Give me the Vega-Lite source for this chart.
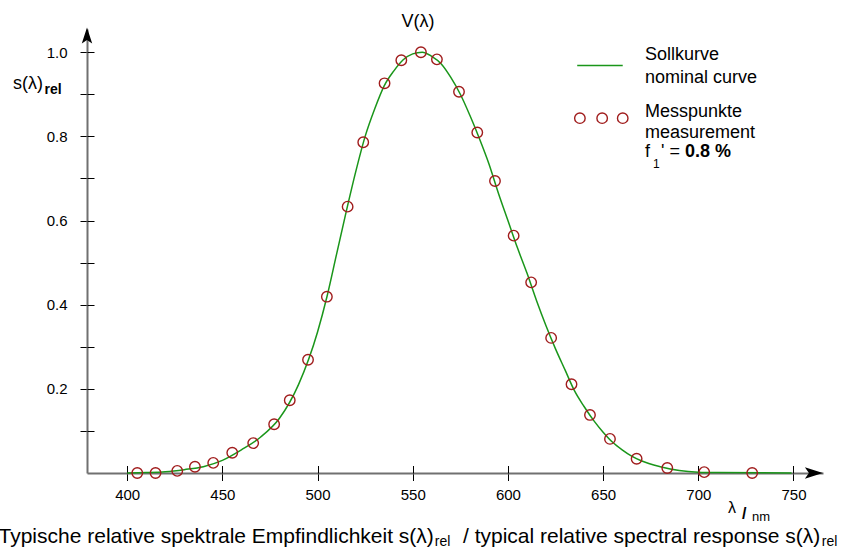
{
  "$schema": "https://vega.github.io/schema/vega-lite/v6.json",
  "width": 736,
  "height": 444,
  "autosize": {"type": "none"},
  "padding": {"left": 87, "top": 29, "right": 27, "bottom": 78},
  "background": "white",
  "config": {"view": {"stroke": null}, "font": "Liberation Sans"},
  "data": {"values": [{}]},
  "datasets": {
    "curve": [
      {"wl": 400, "s": 0.0}, {"wl": 410, "s": 0.001}, {"wl": 420, "s": 0.003}, {"wl": 430, "s": 0.008},
      {"wl": 440, "s": 0.015}, {"wl": 450, "s": 0.03}, {"wl": 460, "s": 0.055}, {"wl": 470, "s": 0.085},
      {"wl": 480, "s": 0.13}, {"wl": 490, "s": 0.21}, {"wl": 500, "s": 0.335}, {"wl": 505, "s": 0.42},
      {"wl": 510, "s": 0.52}, {"wl": 515, "s": 0.62}, {"wl": 520, "s": 0.715}, {"wl": 525, "s": 0.8},
      {"wl": 530, "s": 0.865}, {"wl": 535, "s": 0.92}, {"wl": 540, "s": 0.955}, {"wl": 545, "s": 0.982},
      {"wl": 550, "s": 0.996}, {"wl": 555, "s": 1.0}, {"wl": 560, "s": 0.99}, {"wl": 565, "s": 0.972},
      {"wl": 570, "s": 0.94}, {"wl": 575, "s": 0.9}, {"wl": 580, "s": 0.85}, {"wl": 585, "s": 0.795},
      {"wl": 590, "s": 0.735}, {"wl": 595, "s": 0.665}, {"wl": 600, "s": 0.6}, {"wl": 605, "s": 0.535},
      {"wl": 610, "s": 0.475}, {"wl": 615, "s": 0.41}, {"wl": 620, "s": 0.35}, {"wl": 625, "s": 0.295},
      {"wl": 630, "s": 0.245}, {"wl": 635, "s": 0.195}, {"wl": 640, "s": 0.158}, {"wl": 645, "s": 0.125},
      {"wl": 650, "s": 0.097}, {"wl": 655, "s": 0.073}, {"wl": 660, "s": 0.055}, {"wl": 665, "s": 0.04},
      {"wl": 670, "s": 0.029}, {"wl": 680, "s": 0.015}, {"wl": 690, "s": 0.006}, {"wl": 700, "s": 0.002},
      {"wl": 710, "s": 0.001}, {"wl": 749, "s": 0.0}
    ],
    "meas": [
      {"wl": 405.3, "s": 0.0}, {"wl": 414.9, "s": 0.0}, {"wl": 426.3, "s": 0.005}, {"wl": 435.6, "s": 0.015},
      {"wl": 445.2, "s": 0.024}, {"wl": 455.2, "s": 0.048}, {"wl": 466.2, "s": 0.071}, {"wl": 477.2, "s": 0.116},
      {"wl": 485.4, "s": 0.173}, {"wl": 495.0, "s": 0.269}, {"wl": 504.9, "s": 0.419}, {"wl": 515.8, "s": 0.633},
      {"wl": 524.0, "s": 0.786}, {"wl": 535.2, "s": 0.926}, {"wl": 544.0, "s": 0.981}, {"wl": 554.3, "s": 1.0},
      {"wl": 562.7, "s": 0.983}, {"wl": 574.3, "s": 0.906}, {"wl": 583.9, "s": 0.809}, {"wl": 593.2, "s": 0.694},
      {"wl": 603.0, "s": 0.564}, {"wl": 612.2, "s": 0.453}, {"wl": 622.7, "s": 0.321}, {"wl": 633.4, "s": 0.211},
      {"wl": 643.1, "s": 0.138}, {"wl": 653.6, "s": 0.081}, {"wl": 667.6, "s": 0.034}, {"wl": 683.7, "s": 0.012},
      {"wl": 703.1, "s": 0.002}, {"wl": 728.3, "s": 0.0}
    ]
  },
  "resolve": {"axis": {"x": "independent", "y": "independent"}},
  "layer": [
    {
      "data": {"name": "curve"},
      "mark": {"type": "line", "color": "#1a961a", "strokeWidth": 1.5, "interpolate": "monotone"},
      "encoding": {
        "x": {
          "field": "wl", "type": "quantitative",
          "scale": {"domain": [378.9, 765.5], "nice": false, "zero": false},
          "axis": {
            "orient": "bottom", "values": [400, 450, 500, 550, 600, 650, 700, 750], "format": "d",
            "domainColor": "#707070", "domainWidth": 2, "tickColor": "black", "tickWidth": 1, "tickSize": 7.5,
            "labelFontSize": 15, "labelColor": "black", "labelPadding": 7, "labelFont": "Liberation Sans",
            "title": null, "grid": false
          }
        },
        "y": {
          "field": "s", "type": "quantitative",
          "scale": {"domain": [0, 1.0551], "nice": false, "zero": false},
          "axis": {
            "orient": "left", "values": [0.1, 0.2, 0.3, 0.4, 0.5, 0.6, 0.7, 0.8, 0.9, 1.0],
            "labelExpr": "round(datum.value*10) % 2 == 0 ? format(datum.value, '.1f') : ''",
            "domainColor": "#707070", "domainWidth": 2, "tickColor": "black", "tickWidth": 1, "tickSize": 7,
            "labelFontSize": 15, "labelColor": "black", "labelPadding": 13, "labelFont": "Liberation Sans",
            "title": null, "grid": false
          }
        }
      }
    },
    {
      "data": {"name": "meas"},
      "mark": {"type": "point", "shape": "circle", "size": 110, "filled": false, "stroke": "#a01c1c", "strokeWidth": 1.4, "opacity": 1},
      "encoding": {
        "x": {
          "field": "wl", "type": "quantitative",
          "axis": {
            "orient": "bottom", "offset": -7.5, "values": [400, 450, 500, 550, 600, 650, 700, 750],
            "domain": false, "labels": false, "tickColor": "black", "tickWidth": 1, "tickSize": 7.5,
            "title": null, "grid": false
          }
        },
        "y": {
          "field": "s", "type": "quantitative",
          "axis": {
            "orient": "left", "offset": -7, "values": [0.1, 0.2, 0.3, 0.4, 0.5, 0.6, 0.7, 0.8, 0.9, 1.0],
            "domain": false, "labels": false, "tickColor": "black", "tickWidth": 1, "tickSize": 7,
            "title": null, "grid": false
          }
        }
      }
    },
    {
      "mark": {"type": "point", "shape": "M1,0L-1,-0.65L-0.55,0L-1,0.65Z", "size": 324, "filled": true, "color": "black", "opacity": 1, "strokeWidth": 0},
      "encoding": {"x": {"datum": 760.7, "axis": null}, "y": {"datum": 0, "axis": null}}
    },
    {
      "mark": {"type": "point", "shape": "M0,-1L0.65,1L0,0.55L-0.65,1Z", "size": 256, "filled": true, "color": "black", "opacity": 1, "strokeWidth": 0},
      "encoding": {"x": {"datum": 378.9, "axis": null}, "y": {"datum": 1.0397, "axis": null}}
    },
    {
      "mark": {"type": "rule", "color": "#1a961a", "strokeWidth": 1.5},
      "encoding": {"x": {"datum": 636.4, "axis": null}, "x2": {"datum": 660.3}, "y": {"datum": 0.9684, "axis": null}}
    },
    {
      "mark": {"type": "point", "shape": "circle", "size": 110, "filled": false, "stroke": "#a01c1c", "strokeWidth": 1.4, "opacity": 1},
      "encoding": {"x": {"datum": 637.8, "axis": null}, "y": {"datum": 0.8432, "axis": null}}
    },
    {
      "mark": {"type": "point", "shape": "circle", "size": 110, "filled": false, "stroke": "#a01c1c", "strokeWidth": 1.4, "opacity": 1},
      "encoding": {"x": {"datum": 649.5, "axis": null}, "y": {"datum": 0.8432, "axis": null}}
    },
    {
      "mark": {"type": "point", "shape": "circle", "size": 110, "filled": false, "stroke": "#a01c1c", "strokeWidth": 1.4, "opacity": 1},
      "encoding": {"x": {"datum": 660.3, "axis": null}, "y": {"datum": 0.8432, "axis": null}}
    },
    {
      "mark": {"type": "text", "text": "V(λ)", "align": "center", "baseline": "alphabetic", "fontSize": 18, "color": "black"},
      "encoding": {"x": {"datum": 552.7, "axis": null}, "y": {"datum": 1.061, "axis": null}}
    },
    {
      "mark": {"type": "text", "text": "Sollkurve", "align": "left", "baseline": "alphabetic", "fontSize": 18, "color": "black"},
      "encoding": {"x": {"datum": 672.0, "axis": null}, "y": {"datum": 0.981, "axis": null}}
    },
    {
      "mark": {"type": "text", "text": "nominal curve", "align": "left", "baseline": "alphabetic", "fontSize": 18, "color": "black"},
      "encoding": {"x": {"datum": 672.0, "axis": null}, "y": {"datum": 0.9273, "axis": null}}
    },
    {
      "mark": {"type": "text", "text": "Messpunkte", "align": "left", "baseline": "alphabetic", "fontSize": 18, "color": "black"},
      "encoding": {"x": {"datum": 672.0, "axis": null}, "y": {"datum": 0.846, "axis": null}}
    },
    {
      "mark": {"type": "text", "text": "measurement", "align": "left", "baseline": "alphabetic", "fontSize": 18, "color": "black"},
      "encoding": {"x": {"datum": 672.0, "axis": null}, "y": {"datum": 0.7966, "axis": null}}
    },
    {
      "mark": {"type": "text", "text": "f", "align": "left", "baseline": "alphabetic", "fontSize": 18, "color": "black"},
      "encoding": {"x": {"datum": 672.0, "axis": null}, "y": {"datum": 0.752, "axis": null}}
    },
    {
      "mark": {"type": "text", "text": "1", "align": "left", "baseline": "alphabetic", "fontSize": 12, "color": "black"},
      "encoding": {"x": {"datum": 676.2, "axis": null}, "y": {"datum": 0.7253, "axis": null}}
    },
    {
      "mark": {"type": "text", "text": "' =", "align": "left", "baseline": "alphabetic", "fontSize": 18, "color": "black"},
      "encoding": {"x": {"datum": 680.4, "axis": null}, "y": {"datum": 0.752, "axis": null}}
    },
    {
      "mark": {"type": "text", "text": "0.8 %", "align": "left", "baseline": "alphabetic", "fontSize": 18, "fontWeight": "bold", "color": "black"},
      "encoding": {"x": {"datum": 693.0, "axis": null}, "y": {"datum": 0.752, "axis": null}}
    },
    {
      "mark": {"type": "text", "text": "s(λ)", "align": "left", "baseline": "alphabetic", "fontSize": 18, "color": "black"},
      "encoding": {"x": {"datum": 340.0, "axis": null}, "y": {"datum": 0.9114, "axis": null}}
    },
    {
      "mark": {"type": "text", "text": "rel", "align": "left", "baseline": "alphabetic", "fontSize": 14, "fontWeight": "bold", "color": "black"},
      "encoding": {"x": {"datum": 356.6, "axis": null}, "y": {"datum": 0.8995, "axis": null}}
    },
    {
      "mark": {"type": "text", "text": "λ", "align": "left", "baseline": "alphabetic", "fontSize": 16, "color": "black"},
      "encoding": {"x": {"datum": 715.6, "axis": null}, "y": {"datum": -0.0962, "axis": null}}
    },
    {
      "mark": {"type": "text", "text": "/", "align": "left", "baseline": "alphabetic", "fontSize": 16, "fontWeight": "bold", "color": "black"},
      "encoding": {"x": {"datum": 722.9, "axis": null}, "y": {"datum": -0.1105, "axis": null}}
    },
    {
      "mark": {"type": "text", "text": "nm", "align": "left", "baseline": "alphabetic", "fontSize": 13, "color": "black"},
      "encoding": {"x": {"datum": 728.2, "axis": null}, "y": {"datum": -0.1129, "axis": null}}
    },
    {
      "mark": {"type": "text", "text": "Typische relative spektrale Empfindlichkeit s(λ)", "align": "right", "baseline": "alphabetic", "fontSize": 21, "color": "black"},
      "encoding": {"x": {"datum": 561.1, "axis": null}, "y": {"datum": -0.1652, "axis": null}}
    },
    {
      "mark": {"type": "text", "text": "rel", "align": "left", "baseline": "alphabetic", "fontSize": 14, "color": "black"},
      "encoding": {"x": {"datum": 561.6, "axis": null}, "y": {"datum": -0.1745, "axis": null}}
    },
    {
      "mark": {"type": "text", "text": "/ typical relative spectral response s(λ)", "align": "left", "baseline": "alphabetic", "fontSize": 21, "color": "black"},
      "encoding": {"x": {"datum": 576.4, "axis": null}, "y": {"datum": -0.1652, "axis": null}}
    },
    {
      "mark": {"type": "text", "text": "rel", "align": "left", "baseline": "alphabetic", "fontSize": 14, "color": "black"},
      "encoding": {"x": {"datum": 764.9, "axis": null}, "y": {"datum": -0.1745, "axis": null}}
    }
  ]
}
